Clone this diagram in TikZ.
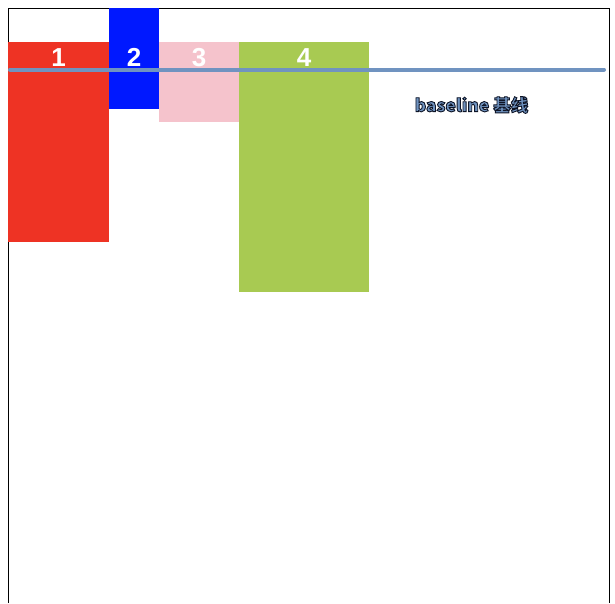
\documentclass[tikz,border=0pt]{standalone}
\usepackage{fontspec}
\newfontfamily\numfont{Liberation Sans}
\newfontfamily\cjkfont{Noto Sans CJK SC}
\newcommand{\strokedtext}[1]{\special{pdf:literal direct 2 Tr 0.9 w 0.05 0.08 0.15 RG}#1\special{pdf:literal direct 0 Tr}}
\definecolor{cred}{RGB}{238,51,36}
\definecolor{cblue}{RGB}{0,24,255}
\definecolor{cpink}{RGB}{245,195,204}
\definecolor{cgreen}{RGB}{168,202,82}
\definecolor{cline}{RGB}{112,147,192}
\begin{document}
\begin{tikzpicture}[x=1pt,y=-1pt,
  boxnode/.style={draw=none,inner sep=0pt,outer sep=0pt,anchor=north west,minimum width=#1},
  digit/.style={text=white,anchor=base,inner sep=0pt,font=\numfont\bfseries\fontsize{26}{26}\selectfont}]
\useasboundingbox (0,0) rectangle (615,603);
% frame
\draw[line width=1pt] (8,603) -- (8,8) -- (609.5,8) -- (609.5,603);
% boxes
\node[boxnode=101pt,fill=cred,minimum height=200pt] (b1) at (8,42) {};
\node[boxnode=50pt,fill=cblue,minimum height=101pt] (b2) at (109,8) {};
\node[boxnode=80pt,fill=cpink,minimum height=80pt] (b3) at (159,42) {};
\node[boxnode=130pt,fill=cgreen,minimum height=250pt] (b4) at (239,42) {};
% digits
\node[digit] (d1) at (58.5,66) {1};
\node[digit] (d2) at (134,66) {2};
\node[digit] (d3) at (199,66) {3};
\node[digit] (d4) at (304,66) {4};
% baseline
\coordinate (ls) at (10,69.5);
\coordinate (le) at (604,69.5);
\draw[cline,line width=4pt,line cap=round] (ls) -- (le);
\node[inner sep=0pt] (bl) at (471.5,105) {\cjkfont\bfseries\fontsize{17.5}{17.5}\selectfont\color{cline}\strokedtext{baseline 基线}};
\end{tikzpicture}
\end{document}
